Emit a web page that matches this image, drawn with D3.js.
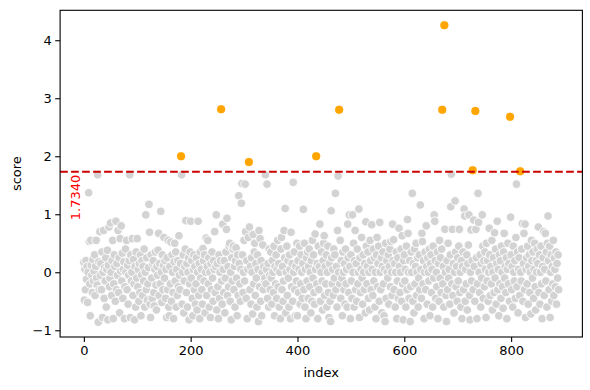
<!DOCTYPE html>
<html><head><meta charset="utf-8">
<script src="https://cdn.jsdelivr.net/npm/d3@7"></script>
<style>
html,body{margin:0;padding:0;background:#fff;}
svg text{font-family:"DejaVu Sans",sans-serif;}
</style></head>
<body><div id="chart"></div>
<script>
const threshold = 1.734;
const thresholdLabel = "1.7340";
const xTicks = [0, 200, 400, 600, 800];
const yTicks = [-1, 0, 1, 2, 3, 4];
const xLabel = "index";
const yLabel = "score";
const scores = [
0.17,-0.48,0.05,-0.3,0.2,-0.12,0.1,-0.52,0.0,1.37,
0.53,-0.2,-0.75,0.55,0.12,-0.05,-0.35,0.22,-0.15,0.02,
0.3,-0.4,0.1,0.55,-0.1,-0.22,1.68,-0.86,0.18,-0.3,
0.7,-0.05,0.15,-0.3,0.35,-0.78,0.0,0.72,-0.45,0.08,
-0.15,0.25,-0.6,0.05,0.38,-0.82,0.12,0.78,-0.25,-0.1,
0.85,0.0,-0.4,0.2,0.55,-0.8,-0.2,0.3,0.1,-0.5,
0.88,-0.3,0.15,-0.05,0.72,-0.35,0.25,-0.7,0.58,0.02,
0.8,-0.15,0.33,-0.45,0.05,0.18,-0.8,-0.25,0.4,0.0,
0.55,-0.3,0.12,-0.55,-0.05,0.2,1.68,-0.78,0.3,-0.15,
0.0,0.58,-0.4,0.22,-0.2,-0.82,0.1,-0.6,0.35,-0.1,
0.58,-0.25,0.05,-0.5,0.15,-0.35,0.3,-0.75,-0.05,0.2,
-0.4,0.1,-0.15,0.4,-0.6,0.0,0.99,-0.3,0.25,-0.48,
-0.2,0.08,1.17,0.69,-0.55,-0.78,0.3,-0.1,-0.45,0.15,
0.2,-0.35,-0.58,0.05,0.35,-0.22,-0.65,0.1,-0.05,0.38,
0.67,-0.4,0.15,-0.2,1.05,0.0,-0.52,0.3,-0.3,0.12,
0.6,-0.1,0.2,-0.45,0.05,-0.78,0.25,-0.3,0.55,-0.6,
-0.75,0.1,-0.2,0.52,-0.5,0.3,0.0,-0.35,-0.8,0.18,
0.5,-0.15,0.35,-0.6,0.05,-0.4,0.2,-0.25,0.63,-0.05,
-0.3,0.15,2.0,1.68,-0.55,0.0,0.3,-0.7,-0.15,0.1,
0.4,0.89,-0.35,0.15,-0.6,0.0,0.25,-0.82,-0.2,0.35,
0.88,-0.1,0.2,-0.45,-0.75,0.05,0.3,-0.3,0.1,-0.55,
-0.2,0.25,-0.65,0.0,0.88,-0.4,0.15,-0.8,0.35,-0.1,
0.05,-0.3,-0.55,0.41,0.2,-0.15,0.3,-0.7,0.0,0.59,
-0.4,0.1,0.55,-0.2,0.25,-0.6,0.0,-0.78,0.15,-0.3,
0.35,-0.1,-0.5,0.2,0.05,0.7,-0.35,0.1,0.99,-0.65,
0.15,-0.25,-0.8,0.3,-0.45,0.0,0.2,2.81,-0.15,-0.55,
0.83,0.05,-0.35,0.2,-0.7,-0.1,0.35,0.74,0.93,-0.4,
0.1,-0.25,0.45,0.5,-0.5,0.0,-0.82,0.25,-0.15,0.4,
0.45,-0.3,0.1,-0.6,0.2,0.42,-0.1,-0.75,0.3,-0.4,
1.32,0.15,-0.2,-0.5,0.05,1.19,1.53,0.3,-0.35,0.0,
0.55,-0.15,1.52,0.7,-0.45,0.2,-0.8,0.05,0.6,1.9,
0.78,-0.3,0.1,-0.55,0.25,0.0,-0.72,0.65,-0.2,0.35,
0.5,-0.4,0.15,-0.1,-0.6,0.3,0.05,-0.85,0.72,-0.25,
0.58,-0.5,0.2,-0.75,0.0,0.47,-0.3,0.1,-0.15,-0.1,
1.68,-0.2,0.05,1.52,-0.45,0.15,-0.6,0.4,-0.05,-0.3,
0.35,-0.1,-0.55,0.2,0.0,-0.35,0.45,-0.75,0.1,-0.2,
0.3,-0.45,0.05,0.55,-0.25,0.15,-0.6,0.0,-0.8,0.4,
0.6,-0.3,0.1,-0.5,-0.15,0.72,0.25,1.1,-0.7,0.0,
0.45,-0.4,0.2,-0.1,-0.6,0.3,0.05,-0.8,0.69,-0.25,
0.15,-0.5,1.55,0.0,0.35,-0.3,-0.75,0.1,-0.15,0.5,
-0.75,0.2,-0.35,0.05,0.45,-0.55,-0.2,0.3,0.0,-0.45,
0.15,1.085,-0.3,0.5,-0.6,0.05,-0.8,0.25,-0.15,0.35,
-0.45,0.1,0.4,-0.25,0.0,-0.7,0.2,-0.5,0.55,-0.1,
0.3,-0.35,-0.55,0.66,0.05,2.0,-0.2,0.15,-0.8,0.45,
-0.3,0.1,0.83,-0.5,0.0,0.35,-0.15,-0.65,0.2,0.5,
0.63,-0.4,0.1,-0.2,0.3,-0.6,0.0,0.45,-0.35,-0.78,
0.15,-0.5,-0.85,1.06,0.25,-0.2,0.05,-0.4,0.4,-0.1,
0.3,1.36,-0.3,0.1,-0.6,0.72,1.66,0.0,2.8,-0.2,
0.55,-0.45,0.2,-0.1,-0.75,0.35,0.0,-0.3,0.15,-0.55,
0.4,-0.2,0.05,-0.6,0.83,0.25,-0.35,0.99,0.1,-0.8,
0.3,-0.15,-0.45,0.99,0.0,0.5,-0.6,0.2,0.72,-0.3,
0.15,-0.5,0.4,-0.2,0.0,1.09,-0.78,0.25,-0.35,0.05,
0.6,-0.1,-0.55,0.3,0.0,-0.3,0.15,-0.7,0.87,0.45,
-0.2,0.1,0.35,-0.45,0.0,-0.65,0.55,0.2,-0.3,0.82,
0.05,-0.4,0.4,-0.15,0.25,-0.6,0.0,-0.8,0.3,0.6,
-0.25,0.15,0.45,-0.5,0.86,0.0,-0.3,0.25,-0.7,0.1,
0.35,-0.2,-0.75,0.05,-0.85,0.5,-0.45,0.2,0.0,-0.1,
0.3,-0.55,0.1,0.4,-0.25,0.53,0.0,-0.4,0.83,0.2,
0.56,-0.3,0.15,-0.6,0.0,0.35,-0.8,-0.15,0.25,-0.45,
0.76,0.1,-0.35,0.0,0.4,-0.5,0.63,-0.2,-0.82,0.2,
0.3,-0.15,0.05,-0.6,0.45,-0.3,0.91,0.67,0.0,-0.45,
0.2,-0.85,-0.25,0.35,0.0,1.36,-0.5,0.15,-0.7,0.4,
-0.2,0.1,0.5,-0.4,0.0,0.25,-0.6,-0.1,0.3,-0.3,
1.16,0.05,-0.45,0.67,0.53,-0.2,0.2,-0.8,0.0,0.35,
-0.3,0.8,0.1,-0.55,0.25,0.0,-0.15,0.4,-0.75,0.15,
0.3,-0.35,0.05,-0.6,0.45,-0.1,0.99,0.88,0.2,-0.45,
0.0,-0.25,0.35,-0.8,0.15,-0.5,0.55,-0.1,0.25,-0.35,
0.4,2.8,-0.2,0.1,-0.6,4.26,0.74,0.0,-0.4,-0.85,
0.2,-0.3,0.5,-0.1,0.05,-0.55,0.3,1.13,1.69,-0.2,
0.74,-0.4,0.15,-0.7,0.0,1.23,0.35,-0.25,0.1,-0.5,
0.25,-0.15,0.45,0.74,-0.35,0.0,-0.6,0.2,-0.8,0.1,
0.35,-0.3,1.09,0.97,-0.5,0.05,-0.2,0.3,-0.65,0.15,
0.47,0.99,-0.4,-0.82,0.0,0.73,-0.15,0.2,1.76,-0.3,
0.9,0.1,-0.5,2.78,0.74,0.25,-0.8,-0.2,1.36,0.86,
0.0,-0.35,0.3,-0.6,0.15,-0.1,0.99,0.45,-0.45,0.2,
-0.25,0.35,0.05,-0.78,0.5,-0.15,0.2,-0.5,0.0,0.76,
0.3,-0.4,0.1,-0.2,0.55,-0.65,0.0,0.25,-0.35,0.68,
-0.1,0.4,-0.55,0.15,0.88,-0.3,0.05,-0.75,0.3,-0.2,
0.2,-0.45,0.45,0.0,-0.25,-0.62,0.35,0.67,-0.1,0.1,
-0.35,0.25,-0.8,0.05,0.5,-0.2,0.15,-0.5,2.68,0.95,
0.3,-0.3,0.1,-0.6,0.45,0.0,-0.15,0.2,-0.45,0.6,
1.52,-0.25,0.35,-0.7,0.05,0.25,-0.4,1.74,0.0,-0.15,
0.4,0.84,-0.5,0.15,0.67,-0.3,0.83,-0.78,0.05,0.25,
-0.2,0.45,-0.55,0.1,0.3,-0.35,0.0,-0.72,0.55,0.2,
-0.1,0.35,-0.45,0.05,0.5,-0.25,-0.65,0.2,0.0,0.4,
0.15,0.78,-0.35,0.3,-0.55,0.0,0.45,-0.2,-0.8,0.1,
0.25,0.7,-0.4,0.05,0.67,-0.15,0.35,-0.6,0.5,0.97,
0.2,-0.3,0.45,-0.78,0.0,0.3,-0.5,0.1,-0.2,0.55,
-0.4,0.25,0.05,-0.25,0.35,-0.55,0.15,-0.1,0.3,-0.3
];

const W = 590, H = 390;
const m = {left: 60.1, right: 7.6, top: 10.3, bottom: 53};
const svg = d3.select("#chart").append("svg").attr("width", W).attr("height", H);

const data = scores.map((s, i) => ({i, s}));
const xExt = d3.extent(data, d => d.i), yExt = d3.extent(data, d => d.s);
const xPad = (xExt[1] - xExt[0]) * 0.05, yPad = (yExt[1] - yExt[0]) * 0.05;
const x = d3.scaleLinear().domain([xExt[0] - xPad, xExt[1] + xPad]).range([m.left, W - m.right]);
const y = d3.scaleLinear().domain([yExt[0] - yPad, yExt[1] + yPad]).range([H - m.bottom, m.top]);

const fmt = v => (v < 0 ? "\u2212" + Math.abs(v) : String(v));

const gx = svg.append("g").attr("transform", `translate(0,${H - m.bottom})`)
  .call(d3.axisBottom(x).tickValues(xTicks).tickFormat(fmt).tickSizeOuter(0).tickSize(4.9).tickPadding(3.5));
const gy = svg.append("g").attr("transform", `translate(${m.left},0)`)
  .call(d3.axisLeft(y).tickValues(yTicks).tickFormat(fmt).tickSizeOuter(0).tickSize(4.9).tickPadding(3.5));
[gx, gy].forEach(g => {
  g.select(".domain").remove();
  g.selectAll(".tick line").attr("stroke", "#000").attr("stroke-width", 1.1);
  g.selectAll(".tick text").attr("fill", "#000").style("font-size", "13px").style("font-family", "DejaVu Sans");
});

const pts = svg.append("g");
pts.selectAll("circle.g").data(data.filter(d => d.s <= threshold)).join("circle")
  .attr("cx", d => x(d.i)).attr("cy", d => y(d.s)).attr("r", 4.3)
  .attr("fill", "#d3d3d3").attr("stroke", "#fff").attr("stroke-width", 0.9);

svg.append("line")
  .attr("x1", m.left).attr("x2", W - m.right)
  .attr("y1", y(threshold)).attr("y2", y(threshold))
  .attr("stroke", "#cc0000").attr("stroke-width", 2).attr("stroke-dasharray", "7.7,3.3");

pts.append("g").selectAll("circle").data(data.filter(d => d.s > threshold)).join("circle")
  .attr("cx", d => x(d.i)).attr("cy", d => y(d.s)).attr("r", 4)
  .attr("fill", "#ffa500").attr("stroke", "#ffa500").attr("stroke-width", 0.3);

svg.append("text")
  .attr("transform", `translate(${x(-15)},${y(threshold) + 3}) rotate(-90)`)
  .attr("text-anchor", "end").attr("dominant-baseline", "central")
  .attr("fill", "#ff0000").style("font-size", "13px").text(thresholdLabel);

svg.append("rect").attr("x", m.left).attr("y", m.top)
  .attr("width", W - m.left - m.right).attr("height", H - m.top - m.bottom)
  .attr("fill", "none").attr("stroke", "#000").attr("stroke-width", 1.1);

svg.append("text").attr("x", (m.left + W - m.right) / 2).attr("y", 377)
  .attr("text-anchor", "middle").attr("fill", "#000").style("font-size", "13px").text(xLabel);
svg.append("text").attr("transform", `translate(21,${(m.top + H - m.bottom) / 2}) rotate(-90)`)
  .attr("text-anchor", "middle").attr("fill", "#000").style("font-size", "13px").text(yLabel);
</script></body></html>
